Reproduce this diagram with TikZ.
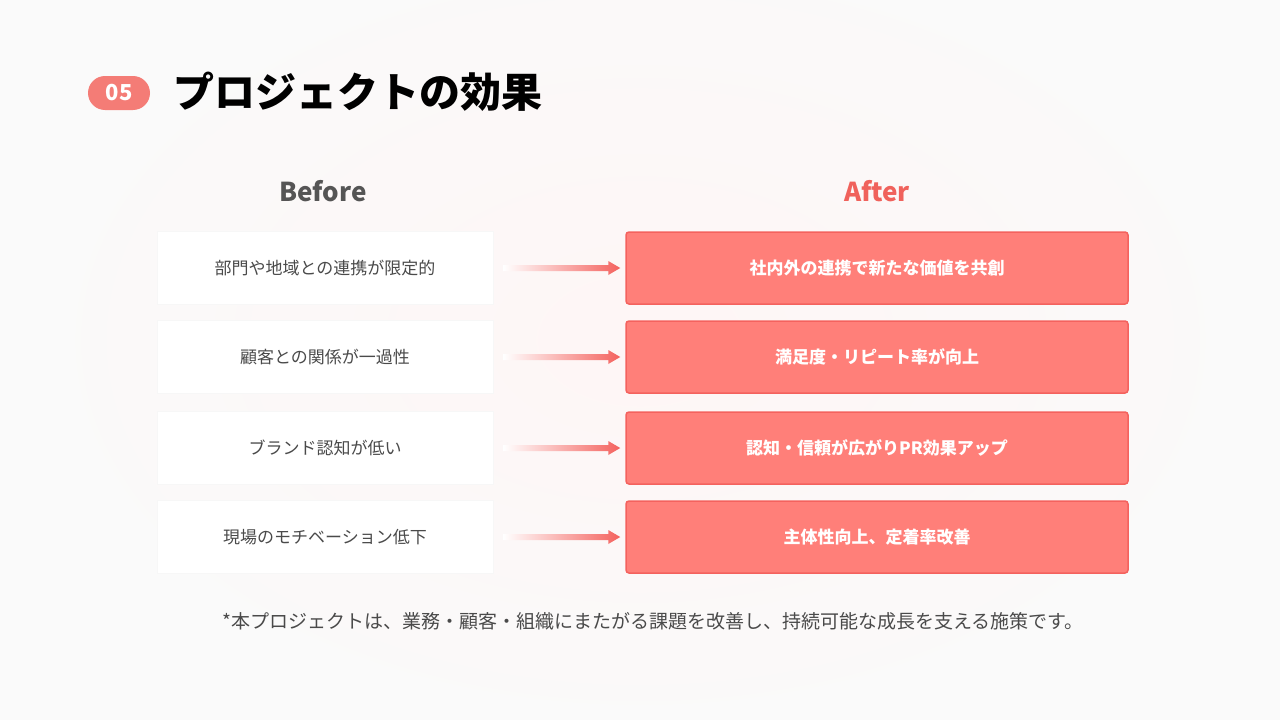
\documentclass[tikz,border=0pt]{standalone}
\usepackage{fontspec}
\setmainfont{Noto Sans CJK JP}
\usetikzlibrary{calc}
\definecolor{salmon}{HTML}{F47C76}
\definecolor{afterfill}{HTML}{FF7F79}
\definecolor{afteredge}{HTML}{F4625E}
\definecolor{redtxt}{HTML}{F0625C}
\definecolor{graytxt}{HTML}{555555}
\definecolor{bodytxt}{HTML}{4A4A4A}
\tikzset{
  beforebox/.style={draw=black!3, fill=white, minimum width=336pt, minimum height=73pt, font=\fontsize{17}{19}\selectfont, text=bodytxt},
  afterbox/.style={draw=afteredge, line width=1.5pt, fill=afterfill, rounded corners=3pt, minimum width=502pt, minimum height=72pt, font=\fontsize{17}{19}\selectfont\bfseries, text=white},
  gradarrow/.style={left color=white, right color=afteredge, draw=none}
}
\begin{document}
\begin{tikzpicture}[x=1pt,y=-1pt]
\useasboundingbox (0,0) rectangle (1280,720);
\fill[black!2] (0,0) rectangle (1280,720);
\shade[inner color=salmon!7, outer color=black!2] (640,340) ellipse (620pt and 400pt);
\node[fill=salmon, rounded corners=17pt, minimum width=62pt, minimum height=34pt, text=white, font=\fontsize{22}{24}\selectfont\bfseries] (badge) at (119,93) {05};
\node[anchor=west, font=\fontsize{41}{44}\selectfont\bfseries] (title) at (170,92) {プロジェクトの効果};
\node[font=\fontsize{26}{28}\selectfont\bfseries, text=graytxt] (hb) at (323,191) {Before};
\node[font=\fontsize{26}{28}\selectfont\bfseries, text=redtxt] (ha) at (877,191) {After};
\foreach \i/\y/\b/\a in {1/268/部門や地域との連携が限定的/社内外の連携で新たな価値を共創,
  2/357/顧客との関係が一過性/満足度・リピート率が向上,
  3/448/ブランド認知が低い/認知・信頼が広がりPR効果アップ,
  4/537/現場のモチベーション低下/主体性向上、定着率改善}{
  \node[beforebox] (b\i) at (325,\y) {\b};
  \node[afterbox] (a\i) at (877,\y) {\a};
  \path[gradarrow] ($(b\i.east)+(10,-3)$) -- ($(a\i.west)+(-17,-3)$) -- ($(a\i.west)+(-17,-7)$) -- ($(a\i.west)+(-5,0)$) -- ($(a\i.west)+(-17,7)$) -- ($(a\i.west)+(-17,3)$) -- ($(b\i.east)+(10,3)$) -- cycle;
}
\node[font=\fontsize{19}{21}\selectfont, text=bodytxt] (note) at (653,621) {*本プロジェクトは、業務・顧客・組織にまたがる課題を改善し、持続可能な成長を支える施策です。};
\end{tikzpicture}
\end{document}
